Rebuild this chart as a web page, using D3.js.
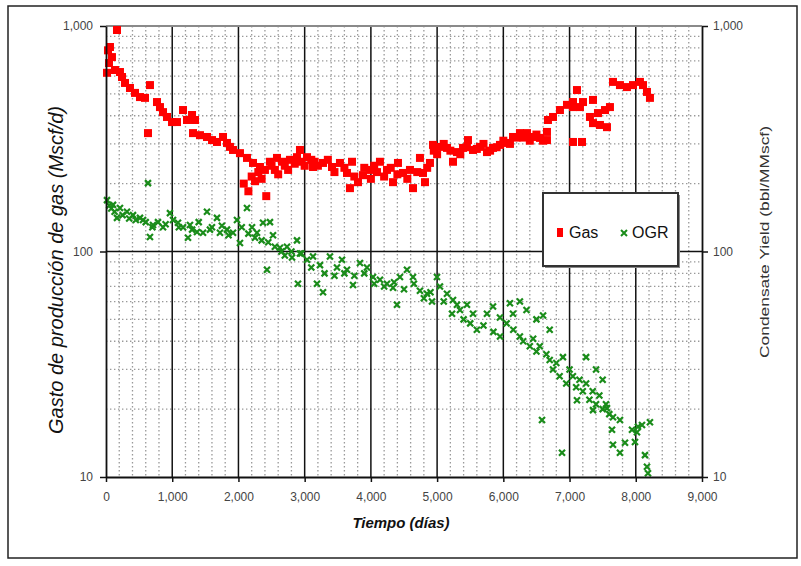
<!DOCTYPE html>
<html>
<head>
<meta charset="utf-8">
<script src="https://cdn.jsdelivr.net/npm/d3@7"></script>
<style>
  body { margin: 0; background: #fff; }
  svg { font-family: Arial, "Liberation Sans", sans-serif; }
</style>
</head>
<body>
<svg id="chart" width="801" height="566"></svg>
<script>
// Gas rate (Mscf/d) vs time (days): [day, rate]
const gasPoints = [
  [15,620],[30,780],[45,685],[60,807],[90,728],[136,638],[166,960],[211,625],[242,594],[287,559],
  [362,531],[438,505],[513,484],[589,480],[634,335],[664,547],[770,460],[815,437],[861,415],[921,395],
  [997,375],[1072,375],[1163,424],[1223,383],[1299,403],[1314,335],[1344,383],[1419,328],[1525,322],[1601,312],
  [1676,306],[1767,322],[1827,303],[1872,291],[1918,282],[2023,273],[2080,200],[2129,260],[2150,185],[2200,215],
  [2220,247],[2250,205],[2300,225],[2325,237],[2350,210],[2400,230],[2420,176],[2476,250],[2500,240],[2550,230],
  [2582,260],[2600,220],[2658,250],[2700,240],[2750,230],[2778,255],[2850,245],[2884,262],[2929,282],[2950,250],
  [3000,240],[3035,262],[3100,255],[3126,237],[3150,250],[3200,240],[3277,247],[3350,255],[3413,237],[3450,225],
  [3533,247],[3600,235],[3639,223],[3684,191],[3715,250],[3750,215],[3805,203],[3881,218],[3900,235],[3986,230],
  [4000,210],[4050,240],[4092,225],[4137,250],[4200,215],[4243,230],[4300,235],[4334,203],[4400,220],[4409,247],
  [4485,223],[4550,210],[4590,230],[4636,191],[4700,225],[4741,260],[4787,223],[4817,203],[4850,235],[4892,247],
  [4938,297],[4950,280],[5000,270],[5043,291],[5100,300],[5149,288],[5200,280],[5240,250],[5300,276],[5350,270],
  [5391,288],[5450,290],[5466,312],[5542,282],[5600,285],[5647,291],[5700,300],[5753,276],[5800,280],[5844,288],
  [5900,290],[5949,297],[6000,310],[6055,303],[6100,300],[6146,322],[6200,320],[6251,335],[6300,320],[6357,335],
  [6400,310],[6448,322],[6500,330],[6553,319],[6600,310],[6659,339],[6659,312],[6674,383],[6750,395],[6855,424],
  [6961,447],[7052,460],[7052,437],[7052,306],[7112,520],[7157,437],[7188,306],[7203,460],[7308,395],[7354,470],
  [7354,371],[7429,411],[7459,364],[7535,424],[7565,356],[7610,437],[7656,565],[7761,547],[7867,536],[7958,547],
  [8063,565],[8109,547],[8169,510],[8214,480]
];

// Condensate yield OGR (bbl/MMscf) vs time (days): [day, yield]
const ogrPoints = [
  [15,169],[50,160],[80,155],[106,161],[130,150],[166,141],[211,156],[250,145],[317,150],[350,140],
  [408,145],[450,138],[513,141],[559,138],[600,135],[634,201],[664,116],[700,128],[710,131],[785,135],
  [861,128],[900,132],[966,148],[1012,138],[1087,134],[1100,128],[1163,128],[1238,115],[1268,131],[1300,125],
  [1374,122],[1400,135],[1465,121],[1525,150],[1570,125],[1600,128],[1676,141],[1721,121],[1750,130],[1827,125],
  [1850,118],[1918,121],[1978,138],[2023,109],[2050,128],[2129,156],[2150,120],[2205,128],[2250,115],[2280,121],
  [2350,112],[2371,134],[2431,83],[2450,110],[2476,135],[2522,118],[2550,105],[2627,104],[2650,100],[2700,96],
  [2733,105],[2800,100],[2809,94],[2884,112],[2899,72],[2929,98],[2950,98],[3035,92],[3100,85],[3126,95],
  [3186,72],[3231,87],[3277,66],[3300,80],[3382,95],[3450,78],[3488,85],[3564,92],[3600,80],[3639,83],
  [3730,71],[3750,78],[3835,89],[3900,80],[3941,85],[4032,77],[4050,72],[4137,75],[4200,70],[4243,72],
  [4334,69],[4350,73],[4394,58],[4439,77],[4500,68],[4545,83],[4636,77],[4650,72],[4741,67],[4800,62],
  [4847,65],[4900,66],[4923,60],[4998,77],[5043,70],[5100,60],[5149,65],[5225,53],[5240,61],[5300,58],
  [5345,55],[5400,50],[5451,58],[5500,48],[5542,53],[5600,45],[5700,47],[5753,53],[5844,57],[5850,44],
  [5949,51],[5950,42],[6050,48],[6100,59],[6146,53],[6150,45],[6250,60],[6250,42],[6300,40],[6350,55],
  [6400,38],[6450,41],[6500,36],[6500,50],[6550,38],[6584,17.9],[6600,52],[6650,35],[6700,33],[6700,45],
  [6750,30],[6800,32],[6850,28],[6886,12.8],[6900,34],[6950,26],[7000,30],[7050,28],[7100,25],[7112,21.9],
  [7150,27],[7200,24],[7250,26],[7250,34],[7300,22],[7350,24],[7354,19.8],[7400,21],[7400,30],[7450,23],
  [7500,20],[7500,27],[7550,21],[7565,20.2],[7600,19],[7641,16.2],[7656,18.4],[7656,13.9],[7761,17.9],[7761,12.8],
  [7837,14.2],[7943,16.2],[7988,14.3],[8018,15.8],[8033,16.7],[8094,17.0],[8139,12.5],[8169,11.1],[8184,10.4],[8214,17.5]
];

const xTicks = [0,1000,2000,3000,4000,5000,6000,7000,8000,9000];
const yTicks = [10,100,1000];
const minorY = [20,30,40,50,60,70,80,90,200,300,400,500,600,700,800,900];

const svg = d3.select("#chart");

// outer frame
svg.append("rect")
  .attr("x", 8).attr("y", 6).attr("width", 789).attr("height", 552)
  .attr("fill", "none").attr("stroke", "#222").attr("stroke-width", 1.5);

const pLeft = 106, pRight = 702, pTop = 26, pBottom = 477;

const x = d3.scaleLinear().domain([0, 9000]).range([pLeft, pRight]);
const y = d3.scaleLog().domain([10, 1000]).range([pBottom, pTop]);

/* grid */
const grid = svg.append("g");
const minorX = d3.range(200, 9000, 200).filter(d => d % 1000 !== 0);

grid.selectAll(".vminor").data(minorX).join("line")
  .attr("x1", d => x(d)).attr("x2", d => x(d))
  .attr("y1", pTop).attr("y2", pBottom)
  .attr("stroke", "#999").attr("stroke-width", 1.3).attr("stroke-dasharray", "1.4,2.6");

grid.selectAll(".hminor").data(minorY).join("line")
  .attr("x1", pLeft).attr("x2", pRight)
  .attr("y1", d => y(d)).attr("y2", d => y(d))
  .attr("stroke", "#999").attr("stroke-width", 1.3).attr("stroke-dasharray", "1.4,2.6");

grid.selectAll(".vmajor").data(xTicks.slice(1, -1)).join("line")
  .attr("x1", d => x(d)).attr("x2", d => x(d))
  .attr("y1", pTop).attr("y2", pBottom)
  .attr("stroke", "#111").attr("stroke-width", 1.5);

grid.append("line")
  .attr("x1", pLeft).attr("x2", pRight)
  .attr("y1", y(100)).attr("y2", y(100))
  .attr("stroke", "#111").attr("stroke-width", 1.5);

// top border (gray)
svg.append("line")
  .attr("x1", pLeft).attr("x2", pRight).attr("y1", pTop).attr("y2", pTop)
  .attr("stroke", "#8a8a8a").attr("stroke-width", 2);

/* data */
svg.append("g").selectAll("rect").data(gasPoints).join("rect")
  .attr("x", d => x(d[0]) - 4).attr("y", d => y(d[1]) - 4)
  .attr("width", 8).attr("height", 8)
  .attr("fill", "#ff0000");

const xMark = s => `M${-s},${-s}L${s},${s}M${-s},${s}L${s},${-s}`;
svg.append("g").selectAll("path").data(ogrPoints).join("path")
  .attr("transform", d => `translate(${x(d[0])},${y(d[1])})`)
  .attr("d", xMark(3))
  .attr("fill", "none").attr("stroke", "#1a8c1a").attr("stroke-width", 2.2);

/* axes */
const fmt = d3.format(",");
const styleAxis = g => {
  g.select(".domain").attr("stroke", "#111").attr("stroke-width", 1.8);
  g.selectAll(".tick line").attr("stroke", "#111").attr("stroke-width", 1.5);
  g.selectAll(".tick text").attr("fill", "#444").attr("font-size", 12)
    .attr("font-family", "Arial, 'Liberation Sans', sans-serif");
};

svg.append("g").attr("transform", `translate(0,${pBottom})`)
  .call(d3.axisBottom(x).tickValues(xTicks).tickFormat(fmt).tickSize(5).tickSizeOuter(0).tickPadding(10))
  .call(styleAxis);

svg.append("g").attr("transform", `translate(${pLeft},0)`)
  .call(d3.axisLeft(y).tickValues(yTicks).tickFormat(fmt).tickSize(6).tickSizeOuter(0).tickPadding(7))
  .call(styleAxis);

svg.append("g").attr("transform", `translate(${pRight},0)`)
  .call(d3.axisRight(y).tickValues(yTicks).tickFormat(fmt).tickSize(6).tickSizeOuter(0).tickPadding(5))
  .call(styleAxis);

/* titles */
svg.append("text")
  .attr("transform", "translate(63,270) rotate(-90)")
  .attr("text-anchor", "middle")
  .attr("font-size", 20).attr("font-style", "italic").attr("fill", "#111")
  .text("Gasto de producción de gas (Mscf/d)");

svg.append("text")
  .attr("transform", "translate(769,242) rotate(-90)")
  .attr("text-anchor", "middle")
  .attr("font-size", 13).attr("fill", "#333")
  .attr("textLength", 232).attr("lengthAdjust", "spacingAndGlyphs")
  .text("Condensate Yield (bbl/MMscf)");

svg.append("text")
  .attr("x", 401).attr("y", 528)
  .attr("text-anchor", "middle")
  .attr("font-size", 15).attr("font-style", "italic").attr("font-weight", "bold").attr("fill", "#111")
  .text("Tiempo (días)");

/* legend */
const lg = svg.append("g");
lg.append("rect").attr("x", 545).attr("y", 195).attr("width", 135).attr("height", 73)
  .attr("fill", "#888");
lg.append("rect").attr("x", 543).attr("y", 193).attr("width", 135).attr("height", 73)
  .attr("fill", "#fff").attr("stroke", "#333").attr("stroke-width", 2);
lg.append("rect").attr("x", 557).attr("y", 228).attr("width", 6).attr("height", 9).attr("fill", "#ff0000");
lg.append("text").attr("x", 569).attr("y", 238).attr("font-size", 16).attr("fill", "#111").text("Gas");
lg.append("path").attr("transform", "translate(624,233)").attr("d", xMark(3))
  .attr("fill", "none").attr("stroke", "#1a8c1a").attr("stroke-width", 2);
lg.append("text").attr("x", 632).attr("y", 238).attr("font-size", 16).attr("fill", "#111").text("OGR");
</script>
</body>
</html>
